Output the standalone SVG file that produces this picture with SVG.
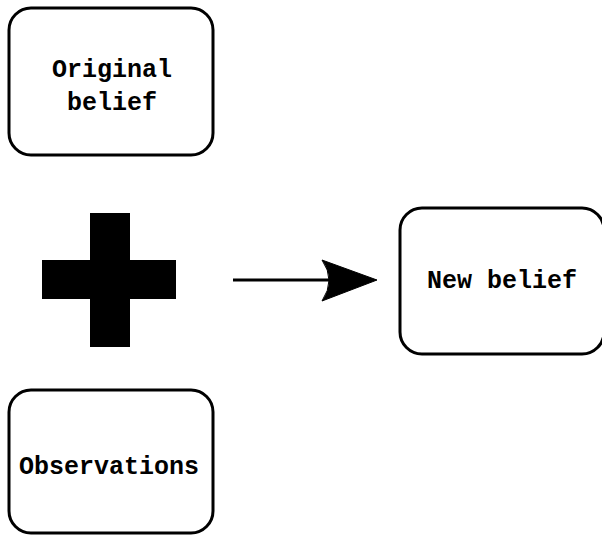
<svg xmlns="http://www.w3.org/2000/svg" width="602" height="536" viewBox="0 0 602 536">
<style>
.box{fill:#fff;stroke:#000;stroke-width:3}
.lbl{font-family:"Liberation Mono","Courier New",monospace;font-weight:bold;font-size:25px;fill:#000;text-anchor:middle}
</style>
<rect width="602" height="536" fill="#fff"/>
<g id="original-belief">
<rect class="box" x="9" y="8" width="204" height="147" rx="22"/>
<text class="lbl" x="112" y="77">Original</text>
<text class="lbl" x="112" y="110">belief</text>
</g>
<g id="plus">
<rect x="90" y="213" width="40" height="134" fill="#000"/>
<rect x="42" y="260" width="134" height="39" fill="#000"/>
</g>
<g id="new-belief">
<rect class="box" x="400" y="208" width="204" height="146" rx="22"/>
<text class="lbl" x="502" y="288">New belief</text>
</g>
<g id="observations">
<rect class="box" x="9" y="390" width="204" height="143" rx="22"/>
<text class="lbl" x="109" y="474">Observations</text>
</g>
<g id="connectors">
<line x1="233" y1="280" x2="330" y2="280" stroke="#000" stroke-width="3"/>
<path d="M377,280 L322,301 Q336,280 322,260 Z" fill="#000" stroke="#000" stroke-width="1" stroke-linejoin="round"/>
</g>
</svg>
